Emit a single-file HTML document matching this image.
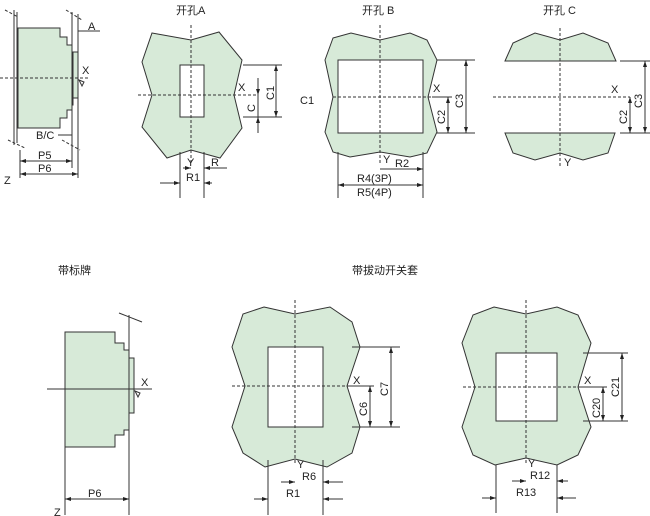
<!DOCTYPE html>
<html><head><meta charset="utf-8"><style>
html,body{margin:0;padding:0;background:#fff;width:650px;height:516px;overflow:hidden}
svg text{font-family:"Liberation Sans","Noto Sans CJK SC",sans-serif;font-size:11px;fill:#222}
</style></head><body>
<svg width="650" height="516" viewBox="0 0 650 516" xmlns="http://www.w3.org/2000/svg">
<defs>
<marker id="a" markerWidth="6" markerHeight="6" refX="6" refY="3" orient="auto-start-reverse" markerUnits="userSpaceOnUse"><path d="M0,1 L6,3 L0,5z" fill="#222"/></marker>
</defs>
<g stroke="#333" stroke-width="1" fill="none">
<path d="M18,28 H60 V37 H67 V45 H72 V52 H73 V105 H72 V110 H67 V118 H60 V128 H18 Z" fill="#d7ead8"/>
<rect x="73" y="52" width="5" height="46" fill="#d7ead8"/>
<line x1="14" y1="10" x2="14" y2="145"/><line x1="17" y1="12" x2="17" y2="143"/>
<line x1="72" y1="12" x2="72" y2="168"/><line x1="78" y1="14" x2="78" y2="178"/>
<line x1="20" y1="150" x2="20" y2="178"/>
<line x1="66" y1="10" x2="82" y2="20" stroke-dasharray="3,2"/>
<line x1="5" y1="10" x2="18" y2="17" stroke-dasharray="3,2"/>
<line x1="8" y1="140" x2="25" y2="148" stroke-dasharray="3,2"/>
<line x1="62" y1="140" x2="80" y2="150" stroke-dasharray="3,2"/>
<line x1="0" y1="78" x2="90" y2="78" stroke-dasharray="3,2"/>
<line x1="78" y1="31" x2="100" y2="31"/>
<line x1="58" y1="135" x2="72" y2="135"/>
<line x1="20" y1="161" x2="72" y2="161" marker-start="url(#a)" marker-end="url(#a)"/>
<line x1="20" y1="174" x2="78" y2="174" marker-start="url(#a)" marker-end="url(#a)"/>
<path d="M79,80 L84,82 L82,86 Z"/>

<path d="M152,33 L191,40 L219,32 L242,60 L234,95 L242,128 L220,158 L191,150 L167,158 L142,127 L152,95 L142,62 Z" fill="#d7ead8"/>
<rect x="180" y="65" width="24" height="52" fill="#fff"/>
<line x1="191" y1="25" x2="191" y2="165" stroke-dasharray="3,2"/>
<line x1="138" y1="95" x2="258" y2="95" stroke-dasharray="3,2"/>
<line x1="243" y1="65" x2="282" y2="65"/><line x1="243" y1="117" x2="282" y2="117"/>
<line x1="276" y1="65" x2="276" y2="117" marker-start="url(#a)" marker-end="url(#a)"/>
<line x1="258" y1="78" x2="258" y2="133"/>
<line x1="258" y1="88" x2="258" y2="95" marker-end="url(#a)"/>
<line x1="258" y1="124" x2="258" y2="117" marker-end="url(#a)"/>
<line x1="180" y1="152" x2="180" y2="198"/><line x1="204" y1="152" x2="204" y2="198"/>
<line x1="183" y1="168" x2="191" y2="168" marker-end="url(#a)"/>
<line x1="227" y1="168" x2="204" y2="168" marker-end="url(#a)"/>
<line x1="160" y1="183" x2="180" y2="183" marker-end="url(#a)"/>
<line x1="212" y1="183" x2="204" y2="183" marker-end="url(#a)"/>

<path d="M333,38 L351,33 L380,40 L410,33 L427,40 L437,60 L428,97 L437,132 L427,153 L410,157 L380,152 L350,157 L333,152 L325,132 L333,97 L325,60 Z" fill="#d7ead8"/>
<rect x="338" y="60" width="85" height="73" fill="#fff"/>
<line x1="380" y1="25" x2="380" y2="165" stroke-dasharray="3,2"/>
<line x1="333" y1="97" x2="432" y2="97" stroke-dasharray="3,2"/>
<line x1="437" y1="60" x2="475" y2="60"/><line x1="437" y1="133" x2="475" y2="133"/>
<line x1="466" y1="60" x2="466" y2="133" marker-start="url(#a)" marker-end="url(#a)"/>
<line x1="432" y1="97" x2="452" y2="97"/>
<line x1="448" y1="97" x2="448" y2="133" marker-start="url(#a)" marker-end="url(#a)"/>
<line x1="338" y1="152" x2="338" y2="198"/><line x1="423" y1="152" x2="423" y2="198"/>
<line x1="380" y1="169" x2="423" y2="169" marker-end="url(#a)"/>
<line x1="338" y1="185" x2="423" y2="185" marker-start="url(#a)" marker-end="url(#a)"/>

<path d="M505,61 L513,43 L535,33 L560,40 L583,33 L608,43 L616,61 Z" fill="#d7ead8"/>
<path d="M505,133 L615,133 L608,153 L583,160 L560,153 L535,160 L513,153 Z" fill="#d7ead8"/>
<line x1="560" y1="28" x2="560" y2="168" stroke-dasharray="3,2"/>
<line x1="493" y1="97" x2="630" y2="97" stroke-dasharray="3,2"/>
<line x1="620" y1="61" x2="650" y2="61"/><line x1="620" y1="133" x2="650" y2="133"/>
<line x1="645" y1="61" x2="645" y2="133" marker-start="url(#a)" marker-end="url(#a)"/>
<line x1="630" y1="97" x2="630" y2="133" marker-start="url(#a)" marker-end="url(#a)"/>

<path d="M65,332 H115 V343 H124 V350 H129 V430 H124 V435 H115 V447 H65 Z" fill="#d7ead8"/>
<rect x="129" y="358" width="5" height="55" fill="#d7ead8"/>
<line x1="129" y1="315" x2="129" y2="515"/>
<line x1="119" y1="313" x2="142" y2="322"/>
<line x1="47" y1="389" x2="152" y2="389"/>
<path d="M135,391 L140,393 L138,397 Z"/>
<line x1="65" y1="447" x2="65" y2="515"/>
<line x1="65" y1="499" x2="129" y2="499" marker-start="url(#a)" marker-end="url(#a)"/>

<path d="M264,307 L295,314 L330,307 L352,322 L360,347 L347,386 L360,427 L352,453 L327,467 L295,459 L265,467 L243,453 L232,427 L245,386 L232,347 L243,314 Z" fill="#d7ead8"/>
<rect x="268" y="347" width="55" height="80" fill="#fff"/>
<line x1="295" y1="300" x2="295" y2="465" stroke-dasharray="3,2"/>
<line x1="232" y1="386" x2="352" y2="386" stroke-dasharray="3,2"/>
<line x1="352" y1="347" x2="400" y2="347"/><line x1="352" y1="427" x2="400" y2="427"/>
<line x1="391" y1="347" x2="391" y2="427" marker-start="url(#a)" marker-end="url(#a)"/>
<line x1="350" y1="386" x2="374" y2="386"/>
<line x1="370" y1="386" x2="370" y2="427" marker-start="url(#a)" marker-end="url(#a)"/>
<line x1="268" y1="460" x2="268" y2="515"/><line x1="323" y1="460" x2="323" y2="515"/>
<line x1="281" y1="482" x2="295" y2="482" marker-end="url(#a)"/>
<line x1="343" y1="482" x2="323" y2="482" marker-end="url(#a)"/>
<line x1="254" y1="499" x2="268" y2="499" marker-end="url(#a)"/>
<line x1="343" y1="499" x2="323" y2="499" marker-end="url(#a)"/>

<path d="M494,307 L526,314 L557,307 L578,315 L591,343 L578,387 L591,427 L578,455 L557,465 L526,458 L495,465 L473,455 L462,427 L475,387 L462,343 L473,315 Z" fill="#d7ead8"/>
<rect x="496" y="353" width="61" height="68" fill="#fff"/>
<line x1="526" y1="300" x2="526" y2="465" stroke-dasharray="3,2"/>
<line x1="463" y1="387" x2="580" y2="387" stroke-dasharray="3,2"/>
<line x1="583" y1="353" x2="628" y2="353"/><line x1="583" y1="421" x2="628" y2="421"/>
<line x1="622" y1="353" x2="622" y2="421" marker-start="url(#a)" marker-end="url(#a)"/>
<line x1="580" y1="387" x2="607" y2="387"/>
<line x1="603" y1="387" x2="603" y2="421" marker-start="url(#a)" marker-end="url(#a)"/>
<line x1="496" y1="465" x2="496" y2="513"/><line x1="557" y1="465" x2="557" y2="513"/>
<line x1="512" y1="481" x2="526" y2="481" marker-end="url(#a)"/>
<line x1="568" y1="481" x2="557" y2="481" marker-end="url(#a)"/>
<line x1="482" y1="498" x2="496" y2="498" marker-end="url(#a)"/>
<line x1="576" y1="498" x2="557" y2="498" marker-end="url(#a)"/>
</g>

<g>
<text x="176" y="14">开孔A</text>
<text x="362" y="14">开孔 B</text>
<text x="543" y="14">开孔 C</text>
<text x="58" y="274">带标牌</text>
<text x="352" y="274">带拔动开关套</text>
<text x="88" y="30">A</text>
<text x="82" y="74">X</text>
<text x="36" y="139">B/C</text>
<text x="38" y="159">P5</text>
<text x="38" y="172">P6</text>
<text x="4" y="184">Z</text>
<text x="238" y="91">X</text>
<text x="187" y="166">Y</text>
<text x="211" y="166">R</text>
<text x="186" y="181">R1</text>
<text transform="translate(255,112) rotate(-90)">C</text>
<text transform="translate(274,100) rotate(-90)">C1</text>
<text x="300" y="104">C1</text>
<text x="433" y="92">X</text>
<text transform="translate(445,124) rotate(-90)">C2</text>
<text transform="translate(463,108) rotate(-90)">C3</text>
<text x="383" y="163">Y</text>
<text x="395" y="167">R2</text>
<text x="357" y="182">R4(3P)</text>
<text x="357" y="196">R5(4P)</text>
<text x="611" y="93">X</text>
<text transform="translate(627,124) rotate(-90)">C2</text>
<text transform="translate(642,108) rotate(-90)">C3</text>
<text x="564" y="166">Y</text>
<text x="141" y="386">X</text>
<text x="88" y="497">P6</text>
<text x="54" y="516">Z</text>
<text x="353" y="384">X</text>
<text transform="translate(367,416) rotate(-90)">C6</text>
<text transform="translate(388,396) rotate(-90)">C7</text>
<text x="297" y="468">Y</text>
<text x="302" y="480">R6</text>
<text x="286" y="497">R1</text>
<text x="584" y="384">X</text>
<text transform="translate(600,418) rotate(-90)">C20</text>
<text transform="translate(619,397) rotate(-90)">C21</text>
<text x="528" y="467">Y</text>
<text x="530" y="479">R12</text>
<text x="516" y="496">R13</text>
</g>
</svg>
</body></html>
